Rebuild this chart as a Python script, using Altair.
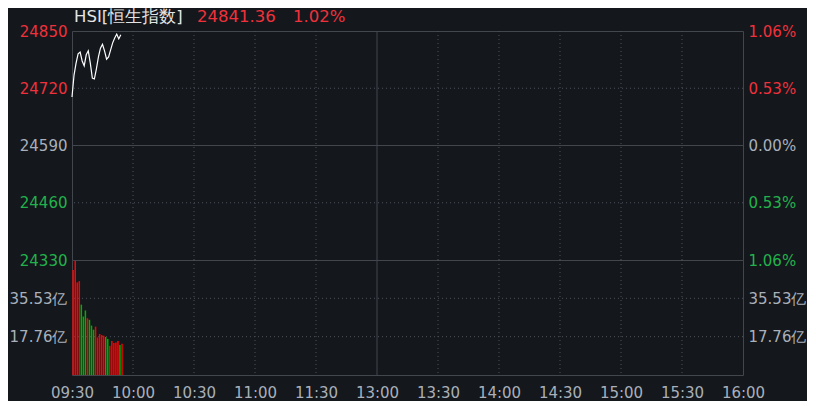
import altair as alt
import pandas as pd

# ---- data ----
title_name = "HSI[恒生指数]"
last_price = "24841.36"
last_pct = "1.02%"
prev_close = 24590
price_min, price_max = 24330, 24850
price_ticks = [24850, 24720, 24590, 24460, 24330]
price_dotted = [24720, 24460]
vol_ticks = [17.76, 35.53]
vol_max = 53.29
session_minutes = 330
time_ticks = [0, 30, 60, 90, 120, 150, 180, 210, 240, 270, 300, 330]
time_labels = ["09:30", "10:00", "10:30", "11:00", "11:30", "13:00",
               "13:30", "14:00", "14:30", "15:00", "15:30", "16:00"]
break_tick = 150

minutes = list(range(25))
prices = [24700, 24750, 24777, 24798, 24802, 24782, 24771, 24796, 24805, 24777,
          24743, 24741, 24764, 24791, 24811, 24820, 24805, 24786, 24791, 24807,
          24823, 24834, 24843, 24832, 24841.36]
volumes = [48.6, 52.9, 42.9, 43.5, 32.6, 27.1, 29.9, 26.3, 25.6, 22.9,
           21.0, 22.4, 17.4, 19.0, 18.5, 18.2, 17.6, 16.7, 13.6, 15.7,
           14.8, 15.1, 15.7, 13.9, 14.5]
vol_up = [1, 1, 1, 1, 0, 0, 0, 1, 0, 0, 0, 1, 1, 1, 1, 1, 0, 0, 1, 1, 1, 1, 1, 0, 1]

# ---- styles ----
BG = "#14171c"
FRAME = "#42464d"
DOT = "#4d525a"
RED = "#f0313b"
GREEN = "#22b24c"
GRAY = "#a9b0ba"
BAR_RED = "#ff0000"
BAR_GREEN = "#00b000"
FONT = "DejaVu Sans"
FS = 15

series = pd.DataFrame({"t": minutes, "price": prices, "vol": volumes, "up": vol_up})
vgrid_dot = pd.DataFrame({"t": [t for t in time_ticks[1:-1] if t != break_tick]})
vgrid_solid = pd.DataFrame({"t": [break_tick]})
pgrid_dot = pd.DataFrame({"p": price_dotted})
pgrid_solid = pd.DataFrame({"p": [prev_close]})
vgrid_vol = pd.DataFrame({"v": vol_ticks})
header = pd.DataFrame({"a": [0]})

xscale = alt.Scale(domain=[0, session_minutes], nice=False, zero=False, padding=0)
pscale = alt.Scale(domain=[price_min, price_max], nice=False, zero=False)
vscale = alt.Scale(domain=[0, vol_max], nice=False, zero=True, padding=0)

W = 671
H_P = 229
H_V = 115

color_expr = (f"datum.value > {prev_close} ? '{RED}' : "
              f"datum.value < {prev_close} ? '{GREEN}' : '{GRAY}'")
pct_expr = f"format(abs(datum.value - {prev_close}) / {prev_close} * 100, '.2f') + '%'"
vol_expr = "format(datum.value, '.2f') + '亿'"
time_expr = "[" + ",".join(f"'{s}'" for s in time_labels) + "][round(datum.value / 30)]"


def yaxis(orient, values, label_expr=None, color=None, fmt=None):
    kw = dict(orient=orient, values=values, title=None, grid=False, domain=False,
              ticks=False, labelPadding=5, labelFontSize=FS, labelFont=FONT,
              labelFlush=False, labelOverlap=False, minExtent=63, maxExtent=63)
    if label_expr:
        kw["labelExpr"] = label_expr
    if fmt:
        kw["format"] = fmt
    kw["labelColor"] = color if color else GRAY
    return alt.Axis(**kw)


x_axis_bottom = alt.Axis(values=time_ticks, title=None, grid=False, domain=False, ticks=False,
                         labelExpr=time_expr, labelColor=GRAY, labelFontSize=FS, labelFont=FONT,
                         labelPadding=10, labelFlush=False, labelOverlap=False)


def vrules(axis):
    dot = alt.Chart(vgrid_dot).mark_rule(color=DOT, strokeDash=[1, 3], strokeWidth=1).encode(
        x=alt.X("t:Q", scale=xscale, axis=axis))
    solid = alt.Chart(vgrid_solid).mark_rule(color=FRAME, strokeWidth=1).encode(
        x=alt.X("t:Q", scale=xscale, axis=axis))
    return dot, solid


# ---- price panel ----
pd_dot, pd_solid = vrules(None)
p_hdot = alt.Chart(pgrid_dot).mark_rule(color=DOT, strokeDash=[1, 3]).encode(
    y=alt.Y("p:Q", scale=pscale, axis=None))
p_hsolid = alt.Chart(pgrid_solid).mark_rule(color=FRAME).encode(
    y=alt.Y("p:Q", scale=pscale,
            axis=yaxis("right", price_ticks, pct_expr, {"expr": color_expr})))
p_line = alt.Chart(series).mark_line(color="#ffffff", strokeWidth=1.2).encode(
    x=alt.X("t:Q", scale=xscale, axis=None),
    y=alt.Y("price:Q", scale=pscale,
            axis=yaxis("left", price_ticks, None, {"expr": color_expr}, fmt="d")))

hdr1 = alt.Chart(header).mark_text(align="left", baseline="middle", font=FONT, fontSize=16.5,
                                   color="#e4e4e4").encode(
    x=alt.value(2), y=alt.value(-14), text=alt.value(title_name))
hdr2 = alt.Chart(header).mark_text(align="left", baseline="middle", font=FONT, fontSize=16.5,
                                   color=RED).encode(
    x=alt.value(125), y=alt.value(-14), text=alt.value(last_price))
hdr3 = alt.Chart(header).mark_text(align="left", baseline="middle", font=FONT, fontSize=16.5,
                                   color=RED).encode(
    x=alt.value(221), y=alt.value(-14), text=alt.value(last_pct))

price_panel = alt.layer(pd_dot, pd_solid, p_hdot, p_hsolid, p_line, hdr1, hdr2, hdr3).resolve_axis(
    y="independent").properties(width=W, height=H_P)

# ---- volume panel ----
vd_dot, vd_solid = vrules(x_axis_bottom)
v_hdot = alt.Chart(vgrid_vol).mark_rule(color=DOT, strokeDash=[1, 3]).encode(
    y=alt.Y("v:Q", scale=vscale, axis=yaxis("right", vol_ticks, vol_expr)))
v_bars = alt.Chart(series).mark_bar(size=1.5, xOffset=1.2).encode(
    x=alt.X("t:Q", scale=xscale, axis=x_axis_bottom),
    y=alt.Y("vol:Q", scale=vscale, axis=yaxis("left", vol_ticks, vol_expr)),
    color=alt.Color("up:N", scale=alt.Scale(domain=[1, 0], range=[BAR_RED, BAR_GREEN]), legend=None))

volume_panel = alt.layer(vd_dot, vd_solid, v_hdot, v_bars).resolve_axis(
    y="independent").properties(width=W, height=H_V)

chart = alt.vconcat(price_panel, volume_panel, spacing=0, bounds="flush").properties(
    background=BG, padding=0
).configure_view(stroke=FRAME, strokeWidth=1).configure_concat(spacing=0)

chart.save("out.html", embed_options={"renderer": "svg", "actions": False})
